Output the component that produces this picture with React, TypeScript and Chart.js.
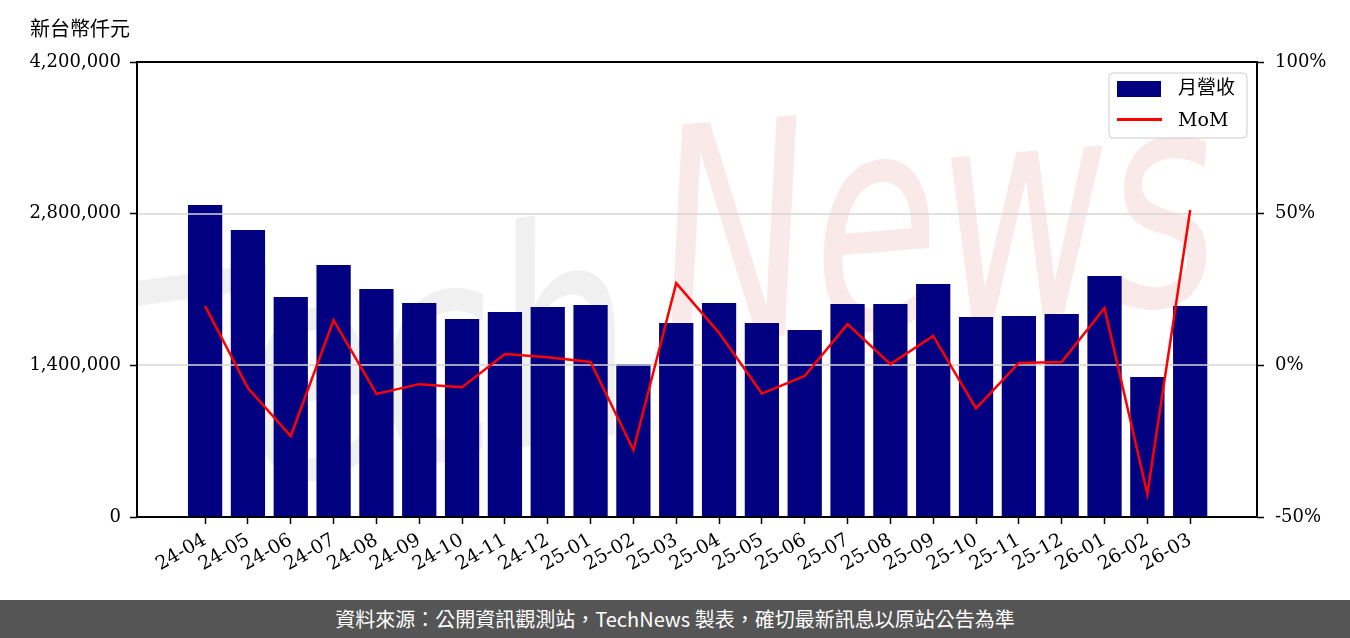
import React, { useEffect, useRef } from "react";
import { Chart, registerables } from "chart.js";

Chart.register(...registerables);

const months = [
  "24-04", "24-05", "24-06", "24-07", "24-08", "24-09", "24-10", "24-11", "24-12",
  "25-01", "25-02", "25-03", "25-04", "25-05", "25-06", "25-07", "25-08", "25-09",
  "25-10", "25-11", "25-12", "26-01", "26-02", "26-03",
];

const revenue = [
  2880000, 2649000, 2031000, 2326000, 2105000, 1975000, 1828000, 1892000, 1938000,
  1957000, 1412000, 1791000, 1975000, 1791000, 1726000, 1966000, 1966000, 2151000,
  1846000, 1855000, 1874000, 2225000, 1292000, 1948000,
];

const mom = [
  19.5, -7.5, -23.3, 14.9, -9.4, -6.2, -7.2, 3.7, 2.7,
  1.1, -27.9, 27.1, 10.7, -9.3, -3.5, 13.6, 0.4, 9.7,
  -14.2, 0.8, 1.1, 18.9, -42.4, 51.2,
];

const leftTicks = [0, 1400000, 2800000, 4200000];
const rightTicks = [-50, 0, 50, 100];

const yUnitTitle = "新台幣仟元";
const legendLabels = ["月營收", "MoM"];
const footerText = "資料來源：公開資訊觀測站，TechNews 製表，確切最新訊息以原站公告為準";

const SERIF = '"DejaVu Serif", "Noto Sans CJK TC", serif';
const NAVY = "#000080";

const decorPlugin = {
  id: "decor",
  beforeDatasetsDraw(chart: any) {
    const { ctx, chartArea: ca } = chart;
    ctx.save();
    ctx.beginPath();
    ctx.rect(ca.left, ca.top, ca.right - ca.left, ca.bottom - ca.top);
    ctx.clip();
    ctx.font = 'italic 300px "DejaVu Sans"';
    ctx.textBaseline = "alphabetic";
    // Tech
    ctx.save();
    ctx.translate(150, 500);
    ctx.rotate(-0.14);
    let w = ctx.measureText("Tech").width;
    ctx.scale(500 / w, 1.0);
    ctx.fillStyle = "#f0f0f0";
    ctx.fillText("Tech", 0, 0);
    ctx.restore();
    // News
    ctx.save();
    ctx.translate(665, 345);
    ctx.rotate(-0.08);
    w = ctx.measureText("News").width;
    ctx.scale(560 / w, 1.0);
    ctx.fillStyle = "#f9e9e9";
    ctx.fillText("News", 0, 0);
    ctx.restore();
    ctx.restore();
  },
  afterDatasetDraw(chart: any, args: any) {
    if (args.index !== 0) return;
    const { ctx, chartArea: ca } = chart;
    const y = chart.scales.y;
    ctx.save();
    ctx.strokeStyle = "#d6d6d6";
    ctx.lineWidth = 1.5;
    for (const v of leftTicks) {
      const py = Math.round(y.getPixelForValue(v));
      if (py <= ca.top + 1 || py >= ca.bottom - 1) continue;
      ctx.beginPath();
      ctx.moveTo(ca.left, py);
      ctx.lineTo(ca.right, py);
      ctx.stroke();
    }
    ctx.restore();
  },
  afterDraw(chart: any) {
    const { ctx, chartArea: ca } = chart;
    ctx.save();
    // frame
    ctx.strokeStyle = "#000";
    ctx.lineWidth = 2;
    ctx.strokeRect(ca.left, ca.top, ca.right - ca.left, ca.bottom - ca.top);
    // unit title
    ctx.fillStyle = "#000";
    ctx.font = '20px "Noto Sans CJK TC", sans-serif';
    ctx.textAlign = "left";
    ctx.textBaseline = "middle";
    ctx.fillText(yUnitTitle, 30, 28);
    // legend
    const bx = 1109, by = 73, bw = 138, bh = 65, r = 4;
    ctx.beginPath();
    ctx.moveTo(bx + r, by);
    ctx.lineTo(bx + bw - r, by);
    ctx.quadraticCurveTo(bx + bw, by, bx + bw, by + r);
    ctx.lineTo(bx + bw, by + bh - r);
    ctx.quadraticCurveTo(bx + bw, by + bh, bx + bw - r, by + bh);
    ctx.lineTo(bx + r, by + bh);
    ctx.quadraticCurveTo(bx, by + bh, bx, by + bh - r);
    ctx.lineTo(bx, by + r);
    ctx.quadraticCurveTo(bx, by, bx + r, by);
    ctx.closePath();
    ctx.fillStyle = "rgba(255,255,255,0.85)";
    ctx.fill();
    ctx.strokeStyle = "#cccccc";
    ctx.lineWidth = 1;
    ctx.stroke();
    ctx.fillStyle = NAVY;
    ctx.fillRect(1117, 81, 44, 16);
    ctx.strokeStyle = "red";
    ctx.lineWidth = 3;
    ctx.beginPath();
    ctx.moveTo(1117, 119.5);
    ctx.lineTo(1162, 119.5);
    ctx.stroke();
    ctx.fillStyle = "#000";
    ctx.font = "19px " + SERIF;
    ctx.textBaseline = "middle";
    ctx.fillText(legendLabels[0], 1178, 89);
    ctx.fillText(legendLabels[1], 1178, 121);
    ctx.restore();
  },
};

export default function App() {
  const ref = useRef<HTMLCanvasElement>(null);

  useEffect(() => {
    if (!ref.current) return;
    const tickFont = { family: SERIF, size: 18 };
    const chart = new Chart(ref.current, {
      type: "bar",
      data: {
        datasets: [
          {
            type: "bar",
            label: legendLabels[0],
            data: revenue.map((v, i) => ({ x: i, y: v })),
            backgroundColor: NAVY,
            barPercentage: 0.8,
            categoryPercentage: 1,
            yAxisID: "y",
            order: 2,
          } as any,
          {
            type: "line",
            label: legendLabels[1],
            data: mom.map((v, i) => ({ x: i, y: v })),
            borderColor: "#ff0000",
            borderWidth: 2.5,
            pointRadius: 0,
            tension: 0,
            yAxisID: "y2",
            order: 1,
          } as any,
        ],
      },
      options: {
        responsive: false,
        animation: false,
        layout: { padding: { top: 62, left: 0, right: 0, bottom: 0 } },
        plugins: { legend: { display: false }, tooltip: { enabled: false } },
        scales: {
          x: {
            type: "linear",
            min: -1.59,
            max: 24.56,
            offset: false,
            afterBuildTicks: (s: any) => {
              s.ticks = months.map((_, i) => ({ value: i }));
            },
            afterFit: (s: any) => {
              s.height = 83;
            },
            grid: {
              offset: false,
              drawOnChartArea: false,
              drawTicks: true,
              tickLength: 7,
              tickColor: "#000",
              tickWidth: 1.5,
            },
            border: { display: false },
            ticks: {
              autoSkip: false,
              minRotation: 30,
              maxRotation: 30,
              padding: 5,
              color: "#000",
              font: { family: SERIF, size: 19 },
              callback: (v: any) => months[v] ?? "",
            },
          },
          y: {
            type: "linear",
            position: "left",
            min: 0,
            max: 4200000,
            afterBuildTicks: (s: any) => {
              s.ticks = leftTicks.map((v) => ({ value: v }));
            },
            afterFit: (s: any) => {
              s.width = 137;
            },
            grid: {
              drawOnChartArea: false,
              tickLength: 7,
              tickColor: "#000",
              tickWidth: 1.5,
            },
            border: { display: false },
            ticks: {
              padding: 9,
              color: "#000",
              font: tickFont,
              callback: (v: any) => Number(v).toLocaleString("en-US"),
            },
          },
          y2: {
            type: "linear",
            position: "right",
            min: -50,
            max: 100,
            afterBuildTicks: (s: any) => {
              s.ticks = rightTicks.map((v) => ({ value: v }));
            },
            afterFit: (s: any) => {
              s.width = 93;
            },
            grid: {
              drawOnChartArea: false,
              tickLength: 7,
              tickColor: "#000",
              tickWidth: 1.5,
            },
            border: { display: false },
            ticks: {
              padding: 11,
              color: "#000",
              font: tickFont,
              callback: (v: any) => v + "%",
            },
          },
        },
      } as any,
      plugins: [decorPlugin],
    });
    return () => chart.destroy();
  }, []);

  return (
    <div style={{ position: "absolute", left: 0, top: 0, width: 1350, height: 638, background: "#fff" }}>
      <canvas ref={ref} width={1350} height={600} style={{ display: "block", width: 1350, height: 600 }} />
      <div
        lang="zh-TW"
        style={{
          position: "absolute",
          left: 0,
          top: 600,
          width: 1350,
          height: 38,
          background: "#555555",
          color: "#fff",
          fontFamily: '"Noto Sans CJK TC", sans-serif',
          fontSize: 20,
          lineHeight: "38px",
          textAlign: "center",
        }}
      >
        {footerText}
      </div>
    </div>
  );
}
